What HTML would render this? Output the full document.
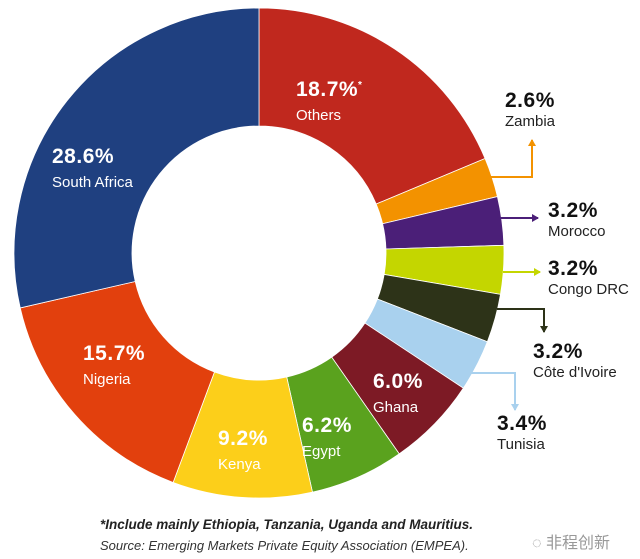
<!DOCTYPE html>
<html><head><meta charset="utf-8"><style>
body{margin:0;background:#fff;width:640px;height:559px;overflow:hidden}
svg{display:block;font-family:"Liberation Sans","Noto Sans CJK SC",sans-serif}
</style></head><body>
<svg id="chart" width="640" height="559" viewBox="0 0 640 559">
<defs>
<marker id="ah" markerWidth="8" markerHeight="8" refX="6" refY="4" orient="auto" markerUnits="userSpaceOnUse"><path d="M0,0 L7,4 L0,8 Z" fill="context-stroke"/></marker>
</defs>
<g id="slices"></g>
<g id="labels"></g>
<text x="100" y="529" font-size="13.5" font-weight="bold" font-style="italic" fill="#222">*Include mainly Ethiopia, Tanzania, Uganda and Mauritius.</text>
<text x="100" y="550" font-size="13" font-style="italic" fill="#333">Source: Emerging Markets Private Equity Association (EMPEA).</text>
<text x="532" y="548" font-size="16" fill="#999">◌ 非程创新</text>
</svg>
<script>
const categories=["Others","Zambia","Morocco","Congo DRC","Côte d'Ivoire","Tunisia","Ghana","Egypt","Kenya","Nigeria","South Africa"];
const values=[18.7,2.6,3.2,3.2,3.2,3.4,6.0,6.2,9.2,15.7,28.6];
const valueLabels=["18.7%","2.6%","3.2%","3.2%","3.2%","3.4%","6.0%","6.2%","9.2%","15.7%","28.6%"];
const colors=["#c0281e","#f39200","#4b1f78","#c4d600","#2d3318","#a9d1ee","#7d1a25","#5aa21e","#fccf1a","#e2400d","#1f4080"];
const cx=259,cy=253,R=245,r=127;
const NS="http://www.w3.org/2000/svg";
const sg=document.getElementById('slices'),lg=document.getElementById('labels');
const total=values.reduce((a,b)=>a+b,0);
function pt(a,rad){return [cx+rad*Math.sin(a),cy-rad*Math.cos(a)];}
let acc=0;
values.forEach((v,i)=>{
 const a0=acc/total*2*Math.PI;acc+=v;const a1=acc/total*2*Math.PI;
 const large=(a1-a0)>Math.PI?1:0;
 const p0=pt(a0,R),p1=pt(a1,R),q1=pt(a1,r),q0=pt(a0,r);
 const p=document.createElementNS(NS,'path');
 p.setAttribute('d',`M${p0} A${R},${R} 0 ${large} 1 ${p1} L${q1} A${r},${r} 0 ${large} 0 ${q0} Z`);
 p.setAttribute('fill',colors[i]);p.setAttribute('stroke','#fff');p.setAttribute('stroke-width','0.8');
 
 
 sg.appendChild(p);
});
const inner={0:[296,96],6:[373,388],7:[302,432],8:[218,445],9:[83,360],10:[52,163]};
const outer={1:[505,107],2:[548,217],3:[548,275],4:[533,358],5:[497,430]};
const arrows={1:"M490,177 L532,177 L532,140",2:"M500,218 L538,218",3:"M503,272 L540,272",4:"M497,309 L544,309 L544,332",5:"M470,373 L515,373 L515,410"};
function txt(x,y,s,size,bold,fill,name){
 const t=document.createElementNS(NS,'text');t.setAttribute('x',x);t.setAttribute('y',y);
 t.setAttribute('font-size',size);if(bold)t.setAttribute('font-weight','bold');t.setAttribute('fill',fill);
 t.textContent=s;
 
 
 lg.appendChild(t);return t;}
values.forEach((v,i)=>{
 const slug=categories[i].toLowerCase().replace(/[^a-z]+/g,'-');
 if(inner[i]){const [x,y]=inner[i];
  const t=txt(x,y,valueLabels[i],21,true,'#fff','value-label-'+slug);
  t.setAttribute('letter-spacing','0.5');
  if(i===0){const s=document.createElementNS(NS,'tspan');s.setAttribute('font-size','10');s.setAttribute('dy','-8');s.textContent='*';t.appendChild(s);}
  txt(x,y+24,categories[i],15,false,'#fff','category-label-'+slug);
 } else {const [x,y]=outer[i];
  const t=txt(x,y,valueLabels[i],21,true,'#111','value-label-'+slug);
  t.setAttribute('letter-spacing','0.5');
  txt(x,y+19,categories[i],15,false,'#222','category-label-'+slug);
  const a=document.createElementNS(NS,'path');a.setAttribute('d',arrows[i]);a.setAttribute('fill','none');
  a.setAttribute('stroke',colors[i]);a.setAttribute('stroke-width','2');a.setAttribute('marker-end','url(#ah)');
  
  
  lg.appendChild(a);}
});
</script>
</body></html>
